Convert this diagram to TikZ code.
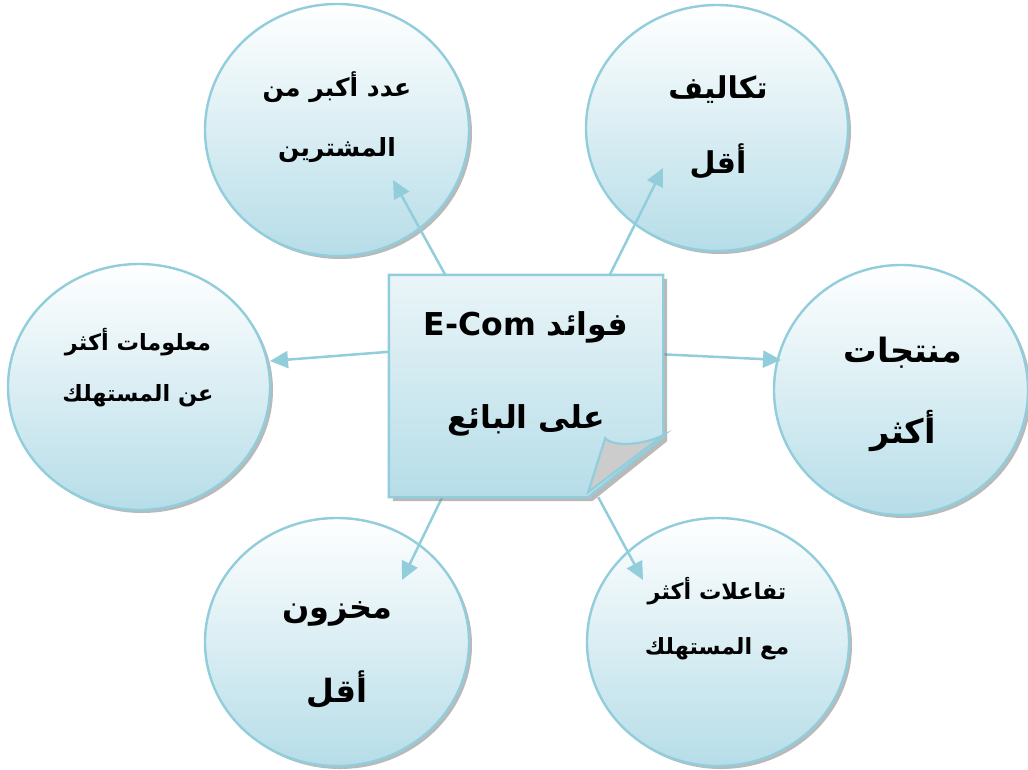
\documentclass[tikz,border=0pt]{standalone}
\usepackage{fontspec}
\usetikzlibrary{shapes.geometric,arrows.meta,shadows,calc}
\TeXXeTstate=1
\newfontfamily\arabicfont[Script=Arabic]{DejaVu Sans}
\definecolor{lineB}{RGB}{146,205,220}
\definecolor{fillB}{RGB}{182,221,232}
\definecolor{midB}{RGB}{222,240,245}
\definecolor{sqTop}{RGB}{234,245,248}
\definecolor{flapG}{RGB}{204,204,204}
\newcommand{\fs}[2]{\arabicfont\bfseries\fontsize{#1}{#2}\selectfont}
\begin{document}
\begin{tikzpicture}[x=1pt,y=-1pt,
  circ/.style={ellipse, draw=lineB, line width=2.4pt, top color=white, middle color=midB, bottom color=fillB, inner sep=0pt,
    drop shadow={shadow xshift=3pt, shadow yshift=-3pt, fill=black!50, opacity=0.55}},
  arr/.style={draw=lineB, line width=2.5pt, -{Triangle[length=18pt,width=17pt]}},
  lbl/.style={align=center, inner sep=0pt, text=black}]
\useasboundingbox (0,0) rectangle (1028,769);
% circles
\node[circ, minimum width=264pt, minimum height=252pt] (c1) at (337,130) {};
\node[circ, minimum width=262pt, minimum height=246pt] (c2) at (717,128) {};
\node[circ, minimum width=262pt, minimum height=246pt] (c3) at (139,387) {};
\node[circ, minimum width=254pt, minimum height=250pt] (c4) at (901,390) {};
\node[circ, minimum width=264pt, minimum height=248pt] (c5) at (337,642) {};
\node[circ, minimum width=262pt, minimum height=248pt] (c6) at (718,642) {};
% texts in circles
\node[lbl, font=\fs{25}{60}] (t1) at (337,117) {\beginR عدد أكبر من\endR\\\beginR المشترين\endR};
\node[lbl, font=\fs{30}{75}] (t2) at (718,127) {\beginR تكاليف\endR\\\beginR أقل\endR};
\node[lbl, font=\fs{22.4}{51}] (t3) at (138,368) {\beginR معلومات أكثر\endR\\\beginR عن المستهلك\endR};
\node[lbl, font=\fs{33.5}{81}] (t4) at (903,394) {\beginR منتجات\endR\\\beginR أكثر\endR};
\node[lbl, font=\fs{32}{84}] (t5) at (337,655) {\beginR مخزون\endR\\\beginR أقل\endR};
\node[lbl, font=\fs{22.3}{55}] (t6) at (717,619) {\beginR تفاعلات أكثر\endR\\\beginR مع المستهلك\endR};
% central square (frame)
\node[minimum width=274pt, minimum height=222pt, inner sep=0pt] (sq) at (526,386) {};
% arrow tips
\coordinate (p1) at (393,180);
\coordinate (p2) at (663,168);
\coordinate (p3) at (270,361);
\coordinate (p4) at (781,360);
\coordinate (p5) at (402,580);
\coordinate (p6) at (643,580);
\draw[arr] (sq.126.8) -- (p1);
\draw[arr] (sq.53.6) -- (p2);
\draw[arr] (sq.166.1) -- (p3);
\draw[arr] (sq.13.9) -- (p4);
\draw[arr] (sq.233.2) -- (p5);
\draw[arr] (sq.303.7) -- (p6);
% square shape with folded corner
\path[draw=lineB, line width=2.4pt, top color=sqTop, bottom color=fillB,
  drop shadow={shadow xshift=4pt, shadow yshift=-4pt, fill=black!50, opacity=0.55}]
  (sq.north west) -- (sq.north east) -- ($(sq.south east)+(0,-60)$)
  -- ($(sq.south east)+(-75,0)$) -- (sq.south west) -- cycle;
\path[draw=lineB, line width=2.2pt, fill=flapG]
  ($(sq.south east)+(-75,-5)$) -- ($(sq.south east)+(-58,-59)$)
  .. controls ($(sq.south east)+(-50,-50)$) and ($(sq.south east)+(-20,-52)$) .. ($(sq.south east)+(0,-62)$)
  -- cycle;
\node[lbl, font=\fs{31.5}{93}] (st) at (526,374) {\beginR فوائد \beginL E-Com\endL\endR\\\beginR على البائع\endR};
\end{tikzpicture}
\end{document}
